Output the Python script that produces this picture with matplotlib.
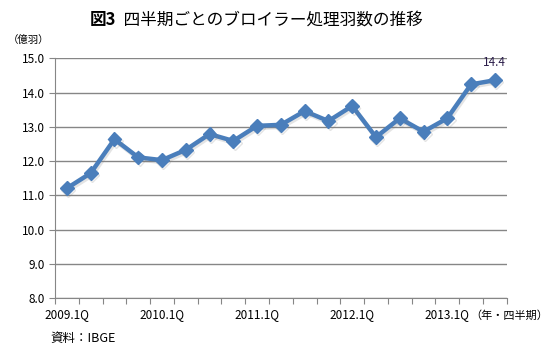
import matplotlib.pyplot as plt
import matplotlib.patheffects as pe
import numpy as np

plt.rcParams['font.family'] = ['Noto Sans CJK JP', 'DejaVu Sans']

quarters = ["2009.1Q", "2009.2Q", "2009.3Q", "2009.4Q",
            "2010.1Q", "2010.2Q", "2010.3Q", "2010.4Q",
            "2011.1Q", "2011.2Q", "2011.3Q", "2011.4Q",
            "2012.1Q", "2012.2Q", "2012.3Q", "2012.4Q",
            "2013.1Q", "2013.2Q", "2013.3Q"]
values = [11.21, 11.65, 12.64, 12.11, 12.03, 12.33, 12.79, 12.59,
          13.03, 13.06, 13.46, 13.17, 13.61, 12.70, 13.25, 12.86,
          13.25, 14.24, 14.36]
yticks = [8.0, 9.0, 10.0, 11.0, 12.0, 13.0, 14.0, 15.0]

BLUE = "#4a7ebb"
GRID = "#868686"

fig = plt.figure(figsize=(5.55, 3.61), dpi=100)
ax = fig.add_axes([0.0991, 0.1737, 0.8139, 0.6648])

x = np.arange(len(values))
ax.plot(x, values, color=BLUE, lw=3.2, marker="D", ms=7, mec=BLUE, mfc=BLUE,
        path_effects=[pe.SimpleLineShadow(offset=(1.0, -1.5), shadow_color="#7a7a7a", alpha=0.2),
                      pe.Normal()], zorder=3)

ax.set_xlim(-0.5, len(values) - 0.5)
ax.set_ylim(8, 15)
ax.set_yticks(yticks)
ax.set_yticklabels([f"{v:.1f}" for v in yticks], fontsize=8.5)
ax.yaxis.grid(True, color=GRID, lw=1)
ax.set_axisbelow(True)

ax.set_xticks(np.arange(-0.5, len(values), 1.0))
ax.set_xticklabels([])
ax.set_xticks([i for i, q in enumerate(quarters) if q.endswith(".1Q")], minor=True)
ax.set_xticklabels([q for q in quarters if q.endswith(".1Q")], minor=True, fontsize=8.5)
ax.tick_params(axis="x", which="major", length=4, color=GRID, direction="out")
ax.tick_params(axis="x", which="minor", length=0, pad=7)
ax.tick_params(axis="y", length=4, color=GRID, pad=3)

for s in ["top", "right"]:
    ax.spines[s].set_visible(False)
for s in ["left", "bottom"]:
    ax.spines[s].set_color(GRID)

ax.annotate(f"{values[-1]:.1f}", (x[-1], values[-1]), xytext=(0, 8), textcoords="offset points",
            ha="center", va="bottom", fontsize=8.5, color="#2b1d4a")

t1 = fig.text(0.162, 0.945, "図3", fontsize=12, fontweight="bold", va="center", ha="left")
fig.canvas.draw()
x_end = fig.transFigure.inverted().transform(t1.get_window_extent().get_points())[1][0]
fig.text(x_end, 0.945, "  四半期ごとのブロイラー処理羽数の推移", fontsize=12, va="center", ha="left")

fig.text(0.014, 0.89, "（億羽）", fontsize=7.5, va="center", ha="left")
fig.text(0.848, 0.125, "（年・四半期）", fontsize=8, va="center", ha="left")
fig.text(0.09, 0.063, "資料：IBGE", fontsize=9, va="center", ha="left")

fig.savefig("out.png", dpi=100)
